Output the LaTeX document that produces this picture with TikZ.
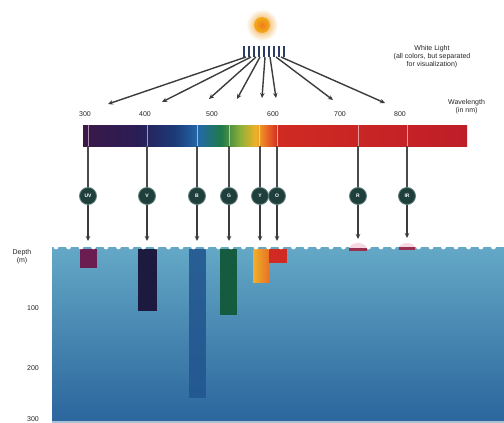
\documentclass[tikz,border=0pt]{standalone}
\usepackage{fontspec}
\setmainfont{Liberation Sans}
\usetikzlibrary{arrows.meta}

\definecolor{raygray}{HTML}{3C3C3C}
\definecolor{dropgray}{HTML}{4A4A4A}
\definecolor{balldark}{HTML}{1F3F3C}
\definecolor{ballrim}{HTML}{5E7C78}
\definecolor{prismblue}{HTML}{2E3E62}
\definecolor{sunorange}{HTML}{EE9A22}
\definecolor{seatop}{HTML}{64A8C6}
\definecolor{seabot}{HTML}{2A659C}
\definecolor{spA}{HTML}{3B1848}
\definecolor{spB}{HTML}{2A1D55}
\definecolor{spC}{HTML}{1C3A78}
\definecolor{spD}{HTML}{2468A8}
\definecolor{spE}{HTML}{1E7A4A}
\definecolor{spF}{HTML}{8FB03A}
\definecolor{spG}{HTML}{F0B028}
\definecolor{spH}{HTML}{E86424}
\definecolor{spI}{HTML}{D02A22}
\definecolor{spJ}{HTML}{BE1E28}
\definecolor{uvband}{HTML}{6B1D52}
\definecolor{vband}{HTML}{1C1A3E}
\definecolor{bband}{HTML}{22578F}
\definecolor{gband}{HTML}{145B40}
\definecolor{redmark}{HTML}{9A3050}
\definecolor{pinkglow}{HTML}{F6D8E2}

% visible spectrum, 25bp..75bp is stretched over the bar
\pgfdeclarehorizontalshading{spectrum}{100bp}{color(0bp)=(spA); color(25bp)=(spA);
  color(32bp)=(spB); color(37bp)=(spC); color(40bp)=(spD); color(43bp)=(spE);
  color(45.5bp)=(spF); color(47.5bp)=(spG); color(49bp)=(spH); color(50.5bp)=(spI);
  color(75bp)=(spJ); color(100bp)=(spJ)}

\begin{document}
\begin{tikzpicture}[x=1pt,y=-1pt,
  lightray/.style={draw=raygray,line width=1.4pt,-{Stealth[length=5pt,width=4.5pt]}},
  dropline/.style={draw=dropgray,line width=1.2pt},
  colorball/.style={circle,fill=balldark,draw=ballrim,line width=0.8pt,minimum size=17pt,inner sep=0pt,text=white,font=\fontsize{5}{5}\selectfont\bfseries},
  lbl/.style={font=\fontsize{7}{8}\selectfont,text=black!85,inner sep=0pt,align=center}]

\useasboundingbox (0,0) rectangle (504,423);
\fill[white] (0,0) rectangle (504,423);

% sun
\shade[inner color=sunorange,outer color=white] (262,25) circle (16);
\shade[inner color=sunorange!80!red,outer color=sunorange!80!yellow] (262,25) circle (8);
\node[coordinate] (sun) at (262,25) {};

% the separated beams leaving the sun
\foreach \x in {244,249,...,284} \draw[prismblue,line width=2.2pt] (\x,46) -- (\x,57);
\coordinate (s1) at (246,57);
\coordinate (s2) at (251,57);
\coordinate (s3) at (256,57);
\coordinate (s4) at (260,57);
\coordinate (s5) at (265,57);
\coordinate (s6) at (270,57);
\coordinate (s7) at (276,57);
\coordinate (s8) at (281,57);
\coordinate (t1) at (108,104);
\coordinate (t2) at (162,102);
\coordinate (t3) at (209,99);
\coordinate (t4) at (237,99);
\coordinate (t5) at (262,98);
\coordinate (t6) at (276,98);
\coordinate (t7) at (333,100);
\coordinate (t8) at (385,103);
\draw[lightray] (s1) -- (t1);
\draw[lightray] (s2) -- (t2);
\draw[lightray] (s3) -- (t3);
\draw[lightray] (s4) -- (t4);
\draw[lightray] (s5) -- (t5);
\draw[lightray] (s6) -- (t6);
\draw[lightray] (s7) -- (t7);
\draw[lightray] (s8) -- (t8);

\node[lbl] (white) at (432,57) {White Light\\(all colors, but separated\\for visualization)};

% wavelength scale
\node[lbl] (w300) at (85,114) {300};
\node[lbl] (w400) at (145,114) {400};
\node[lbl] (w500) at (212,114) {500};
\node[lbl] (w600) at (273,114) {600};
\node[lbl] (w700) at (340,114) {700};
\node[lbl] (w800) at (400,114) {800};
\node[lbl,anchor=west] (wave) at (448,107) {Wavelength\\(in nm)};

\shade[shading=spectrum] (83,125) rectangle (467,146);
\foreach \x in {88,147,197,229,259,277,358,407}
  \draw[white,opacity=.55,line width=0.7pt] (\x,125) -- (\x,146);

% colour bands
\node[colorball] (uv) at (88,196) {UV};
\node[colorball] (v) at (147,196) {V};
\node[colorball] (b) at (197,196) {B};
\node[colorball] (g) at (229,196) {G};
\node[colorball] (y) at (260,196) {Y};
\node[colorball] (o) at (277,196) {O};
\node[colorball] (r) at (358,196) {R};
\node[colorball] (ir) at (407,196) {IR};
\coordinate (buv) at (88,146);
\coordinate (bv) at (147,146);
\coordinate (bb) at (197,146);
\coordinate (bg) at (229,146);
\coordinate (by) at (260,146);
\coordinate (bo) at (277,146);
\coordinate (br) at (358,146);
\coordinate (bir) at (407,146);
\draw[dropline] (buv) -- (uv);
\draw[dropline] (bv) -- (v);
\draw[dropline] (bb) -- (b);
\draw[dropline] (bg) -- (g);
\draw[dropline] (by) -- (y);
\draw[dropline] (bo) -- (o);
\draw[dropline] (br) -- (r);
\draw[dropline] (bir) -- (ir);

% sea
\shade[top color=seatop,bottom color=seabot] (52,247) rectangle (504,423);
\fill[white,opacity=.6] (52,421) rectangle (504,423);
\fill[uvband] (80,249) rectangle (97,268);
\fill[vband] (138,249) rectangle (157,311);
\fill[bband,opacity=.9] (189,249) rectangle (206,398);
\fill[gband] (220,249) rectangle (237,315);
\shade[left color=spG,right color=spH!80!spG] (253,249) rectangle (269,282);
\fill[spI] (269,249) rectangle (287,263);
\foreach \x in {56,68.5,...,504} \fill[white] (\x,247) circle (2.4);
\fill[pinkglow] (349,249) arc (180:360:9 and 6) -- cycle;
\fill[redmark] (349,247.5) rectangle (367,250.5);
\fill[pinkglow] (399,248) arc (180:360:8 and 5) -- cycle;
\fill[redmark] (399,246.5) rectangle (415,249.5);

\coordinate (wuv) at (88,241);
\coordinate (wv) at (147,241);
\coordinate (wb) at (197,241);
\coordinate (wg) at (229,241);
\coordinate (wy) at (260,241);
\coordinate (wo) at (277,241);
\coordinate (wr) at (358,239);
\coordinate (wir) at (407,238);
\draw[lightray] (uv) -- (wuv);
\draw[lightray] (v) -- (wv);
\draw[lightray] (b) -- (wb);
\draw[lightray] (g) -- (wg);
\draw[lightray] (y) -- (wy);
\draw[lightray] (o) -- (wo);
\draw[lightray] (r) -- (wr);
\draw[lightray] (ir) -- (wir);

% depth scale
\node[lbl] (depth) at (22,257) {Depth\\(m)};
\node[lbl] (d100) at (33,308) {100};
\node[lbl] (d200) at (33,368) {200};
\node[lbl] (d300) at (33,419) {300};
\end{tikzpicture}
\end{document}
